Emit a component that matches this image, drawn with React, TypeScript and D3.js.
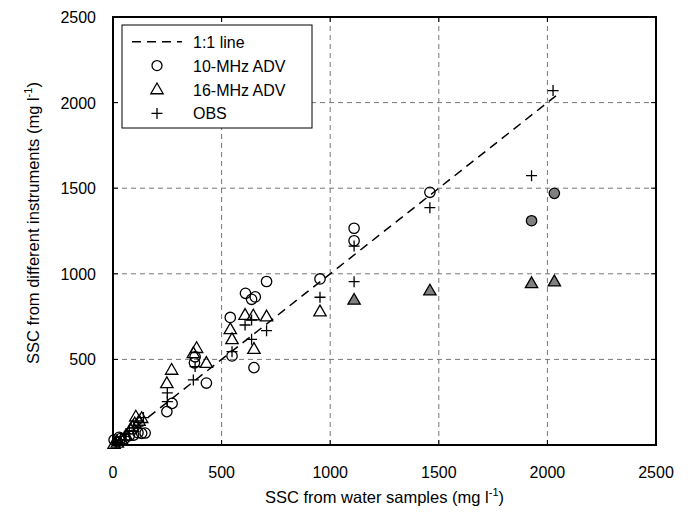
import React from "react";
import * as d3 from "d3";

// 10-MHz ADV [water sample SSC, instrument SSC]; last three are grey-filled
const adv10: [number, number][] = [
  [5, 30], [20, 20], [35, 38], [55, 40], [75, 55], [95, 58], [115, 72], [132, 68], [148, 70], [28, 45],
  [248, 195], [272, 243], [378, 515], [375, 480], [430, 362],
  [540, 745], [548, 520], [610, 886], [638, 851], [655, 865], [707, 955], [649, 452],
  [953, 970], [1110, 1266], [1110, 1193], [1459, 1476],
];
const adv10Grey: [number, number][] = [[1927, 1310], [2032, 1470]];

const adv16: [number, number][] = [
  [5, 5], [20, 12], [40, 30], [60, 55], [80, 90], [100, 125], [105, 165], [132, 156], [90, 105], [120, 140],
  [248, 360], [270, 438], [370, 535], [385, 565], [430, 478],
  [540, 675], [548, 617], [608, 759], [646, 755], [707, 750], [649, 560],
  [953, 779],
];
const adv16Grey: [number, number][] = [[1110, 847], [1459, 901], [1927, 944], [2032, 954]];

const obs: [number, number][] = [
  [15, 15], [35, 30], [55, 50], [75, 80], [95, 100], [115, 110], [140, 160], [60, 65],
  [250, 253], [250, 305], [370, 380], [378, 458],
  [548, 545], [608, 701], [638, 730], [638, 617], [707, 668],
  [953, 863], [1110, 1162], [1110, 954], [1459, 1386], [1927, 1573], [2026, 2070],
];

const ticks = [0, 500, 1000, 1500, 2000, 2500];
const lineEnd = 2040;

const legendItems = ["1:1 line", "10-MHz ADV", "16-MHz ADV", "OBS"];

const font = "'Liberation Sans', Arial, sans-serif";

export default function App() {
  const W = 690, H = 517;
  const L = 113, R = 656, T = 17, B = 445;
  const x = d3.scaleLinear().domain([0, 2500]).range([L, R]);
  const y = d3.scaleLinear().domain([0, 2500]).range([B, T]);

  const tri = (cx: number, cy: number, s = 6.5) =>
    `M${cx},${cy - s}L${cx + s * 0.95},${cy + s * 0.65}L${cx - s * 0.95},${cy + s * 0.65}Z`;
  const plus = (cx: number, cy: number, s = 5.5) =>
    `M${cx - s},${cy}H${cx + s}M${cx},${cy - s}V${cy + s}`;

  const inner = ticks.slice(1, -1);

  return (
    <svg width={W} height={H} style={{ position: "absolute", left: 0, top: 0, background: "#fff" }} fontFamily={font}>
      {/* grid */}
      {inner.map((t) => (
        <g key={"g" + t} stroke="#777" strokeWidth={1} strokeDasharray="5,4">
          <line x1={x(t)} x2={x(t)} y1={T} y2={B} />
          <line x1={L} x2={R} y1={y(t)} y2={y(t)} />
        </g>
      ))}
      {/* inner ticks on all sides */}
      {inner.map((t) => (
        <g key={"t" + t} stroke="#000" strokeWidth={1}>
          <line x1={x(t)} x2={x(t)} y1={B} y2={B - 5} />
          <line x1={x(t)} x2={x(t)} y1={T} y2={T + 5} />
          <line x1={L} x2={L + 5} y1={y(t)} y2={y(t)} />
          <line x1={R} x2={R - 5} y1={y(t)} y2={y(t)} />
        </g>
      ))}
      {/* 1:1 line */}
      <line x1={x(0)} y1={y(0)} x2={x(lineEnd)} y2={y(lineEnd)} stroke="#000" strokeWidth={1.5} strokeDasharray="9,6" />

      {/* points */}
      <g fill="none" stroke="#000" strokeWidth={1.3}>
        {adv10.map((d, i) => <circle key={"c" + i} cx={x(d[0])} cy={y(d[1])} r={5.2} />)}
        {adv16.map((d, i) => <path key={"a" + i} d={tri(x(d[0]), y(d[1]))} />)}
        {obs.map((d, i) => <path key={"o" + i} d={plus(x(d[0]), y(d[1]))} />)}
      </g>
      <g fill="#808080" stroke="#000" strokeWidth={1.3}>
        {adv10Grey.map((d, i) => <circle key={"cg" + i} cx={x(d[0])} cy={y(d[1])} r={5.2} />)}
        {adv16Grey.map((d, i) => <path key={"ag" + i} d={tri(x(d[0]), y(d[1]))} />)}
      </g>

      {/* frame */}
      <rect x={L} y={T} width={R - L} height={B - T} fill="none" stroke="#000" strokeWidth={2} />

      {/* tick labels */}
      {ticks.map((t) => (
        <text key={"xl" + t} x={x(t)} y={B + 33} textAnchor="middle" fontSize={16}>{t}</text>
      ))}
      {ticks.slice(1).map((t) => (
        <text key={"yl" + t} x={L - 17} y={y(t) + 6} textAnchor="end" fontSize={16}>{t}</text>
      ))}

      {/* axis titles */}
      <text x={(L + R) / 2} y={503} textAnchor="middle" fontSize={16.5}>
        SSC from water samples (mg l<tspan dy={-7} fontSize={11}>-1</tspan><tspan dy={7}>)</tspan>
      </text>
      <text transform={`translate(39,${(T + B) / 2 - 8}) rotate(-90)`} textAnchor="middle" fontSize={16.5}>
        SSC from different instruments (mg l<tspan dy={-7} fontSize={11}>-1</tspan><tspan dy={7}>)</tspan>
      </text>

      {/* legend */}
      <g>
        <rect x={122} y={25} width={190} height={103} fill="#fff" stroke="#000" strokeWidth={1} />
        {legendItems.map((s, i) => {
          const cy = 41.7 + i * 23.9;
          return (
            <g key={s}>
              {i === 0 && <line x1={132} x2={182} y1={cy} y2={cy} stroke="#000" strokeWidth={1.5} strokeDasharray="9,6" />}
              {i === 1 && <circle cx={157} cy={cy} r={5} fill="none" stroke="#000" strokeWidth={1.3} />}
              {i === 2 && <path d={tri(157, cy)} fill="none" stroke="#000" strokeWidth={1.3} />}
              {i === 3 && <path d={plus(157, cy)} fill="none" stroke="#000" strokeWidth={1.3} />}
              <text x={193} y={cy + 6} fontSize={16}>{s}</text>
            </g>
          );
        })}
      </g>
    </svg>
  );
}
